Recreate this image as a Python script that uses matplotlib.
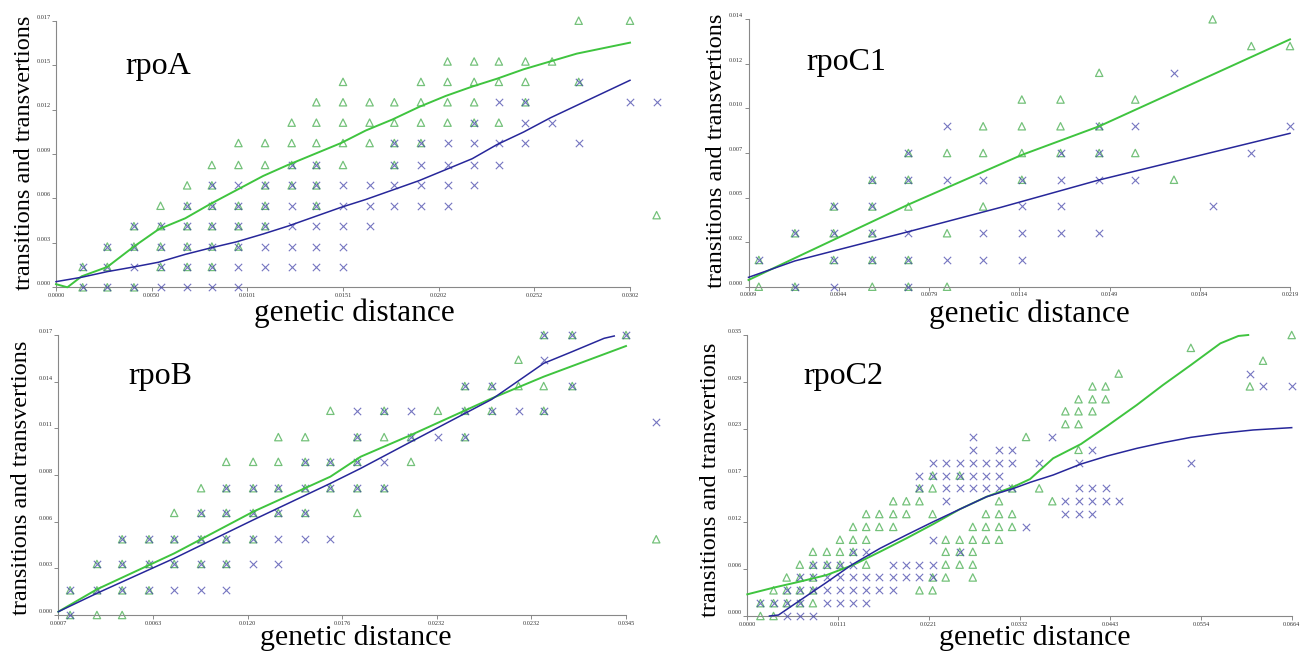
import numpy as np
import matplotlib
matplotlib.use("Agg")
import matplotlib.pyplot as plt
from matplotlib.transforms import ScaledTranslation

# ---------------- data ----------------
# grid codes: T = triangle (transitions), X = cross (transversions), B = both, . = none

# rpoA
rpoA_cols = [0.0014, 0.0027, 0.0041, 0.0055, 0.0069, 0.0082, 0.0096, 0.0110, 0.0124, 0.0137, 0.0151, 0.0165,
             0.0178, 0.0192, 0.0206, 0.0220, 0.0233, 0.0247, 0.0261, 0.0275, 0.0288, 0.0302, 0.0316]
rpoA_rows = [0.0000, 0.0013, 0.0026, 0.0039, 0.0052, 0.0065, 0.0078, 0.0092, 0.0105, 0.0118, 0.0131, 0.0144,
             0.0157, 0.0170]
rpoA_grid = [
    "BBBXXXX",
    "BBXBBBXXXXX",
    ".BBBBBBXXXX",
    "..BBBBBBXXXX",
    "...TBBBBXBXXXXX",
    "....TBXBBBXXXXXX",
    ".....TTTBBT.BXXXX",
    "......TTTTTTBBXXXX.X",
    "........TTTTTTTBTXX",
    ".........TTTTTTTXB...XX",
    "..........T..TTTTT.B",
    "..............TTTTT",
    "",
    "...................T.T",
]
rpoA_extra_tri = ([0.0316], [0.0046])
rpoA_extra_x = ([], [])
rpoA_green_x = [0.0000, 0.0006, 0.00135, 0.0027, 0.0041, 0.0054, 0.0068, 0.0081, 0.0095, 0.0109, 0.0122, 0.0136,
                0.0150, 0.0163, 0.0177, 0.0191, 0.0205, 0.0219, 0.0232, 0.0246, 0.0260, 0.0274, 0.0302]
rpoA_green_y = [0.0002, 0.0000, 0.0007, 0.0013, 0.0026, 0.0037, 0.0044, 0.0053, 0.0062, 0.0071, 0.0078, 0.0085,
                0.0092, 0.0100, 0.0107, 0.0115, 0.0122, 0.0128, 0.0133, 0.0139, 0.0144, 0.0149, 0.0156]
rpoA_blue_x = [0.0000, 0.00135, 0.0027, 0.0041, 0.0054, 0.0068, 0.0081, 0.0095, 0.0109, 0.0122, 0.0136, 0.0150,
               0.0163, 0.0177, 0.0191, 0.0205, 0.0219, 0.0232, 0.0246, 0.0260, 0.0274, 0.0302]
rpoA_blue_y = [0.00036, 0.00064, 0.0010, 0.0013, 0.0016, 0.0021, 0.0025, 0.0029, 0.0034, 0.0039, 0.0045, 0.0051,
               0.0056, 0.0062, 0.0068, 0.0075, 0.0082, 0.0091, 0.0099, 0.0108, 0.0116, 0.0132]
rpoA_xlim = (0.0, 0.0302)
rpoA_ylim = (0.0, 0.017)
rpoA_xticklabels = ["0.0000", "0.0050", "0.0101", "0.0151", "0.0202", "0.0252", "0.0302"]
rpoA_yticklabels = ["0.000", "0.003", "0.006", "0.009", "0.012", "0.015", "0.017"]

# rpoC1
rpoC1_cols = [0.0013, 0.0027, 0.0042, 0.0057, 0.0071, 0.0086, 0.0100, 0.0115, 0.0130, 0.0145, 0.0159, 0.0174,
              0.0189, 0.0204, 0.0219]
rpoC1_rows = [0.0000, 0.0014, 0.0028, 0.0042, 0.0056, 0.0070, 0.0084, 0.0098, 0.0112, 0.0126, 0.0140]
rpoC1_grid = [
    "TBXTBT",
    "B.BBBXXX",
    ".BBBXTXXXX",
    "..BBT.TXX...X",
    "...BBXXBXXXT",
    "....BTTTBBT..X",
    ".....XTTTBX...X",
    ".......TT.T",
    ".........T.X",
    ".............TT",
    "............T",
]
rpoC1_extra_tri = ([], [])
rpoC1_extra_x = ([], [])
rpoC1_green_x = [0.0009, 0.0027, 0.0071, 0.0115, 0.0145, 0.0219]
rpoC1_green_y = [0.00035, 0.0015, 0.0043, 0.0069, 0.0084, 0.01295]
rpoC1_blue_x = [0.0009, 0.0027, 0.0071, 0.0107, 0.0145, 0.0219]
rpoC1_blue_y = [0.00049, 0.00135, 0.00288, 0.00416, 0.00559, 0.00803]
rpoC1_xlim = (0.0009, 0.0219)
rpoC1_ylim = (0.0, 0.014)
rpoC1_xticklabels = ["0.0009", "0.0044", "0.0079", "0.0114", "0.0149", "0.0184", "0.0219"]
rpoC1_yticklabels = ["0.000", "0.002", "0.005", "0.007", "0.010", "0.012", "0.014"]

# rpoB
rpoB_cols = [0.0014, 0.0030, 0.0045, 0.0061, 0.0076, 0.0092, 0.0107, 0.0123, 0.0138, 0.0154, 0.0169, 0.0185,
             0.0201, 0.0217, 0.0233, 0.0249, 0.0265, 0.0281, 0.0296, 0.0313, 0.0328, 0.0345, 0.0363]
rpoB_rows = [0.0000, 0.0015, 0.0031, 0.0046, 0.0062, 0.0077, 0.0093, 0.0108, 0.0124, 0.0139, 0.0155, 0.0170]
rpoB_grid = [
    "BTT",
    "BBBBXXX",
    ".BBBBBBXX",
    "..BBBBBBXXX",
    "....TBBBBB.T",
    ".....TBBBBBBB",
    "......TTTBBBXT",
    "........TT.BTBXB",
    "..........TXBXTBBXB",
    "...............BBTTB",
    ".................TX",
    "..................BB.B",
]
rpoB_extra_tri = ([0.0363], [0.0046])
rpoB_extra_x = ([0.0363], [0.0117])
rpoB_green_x = [0.0007, 0.0030, 0.0076, 0.0123, 0.0169, 0.0187, 0.0217, 0.0265, 0.0296, 0.0345]
rpoB_green_y = [0.0002, 0.00156, 0.00374, 0.00627, 0.0084, 0.00961, 0.01093, 0.01315, 0.01447, 0.01633]
rpoB_blue_x = [0.0007, 0.0030, 0.0076, 0.0123, 0.0169, 0.0187, 0.0217, 0.0265, 0.0296, 0.0313, 0.0332, 0.0338]
rpoB_blue_y = [0.0002, 0.00132, 0.00344, 0.00577, 0.00799, 0.0089, 0.01052, 0.01309, 0.01528, 0.01599, 0.0168,
               0.01694]
rpoB_xlim = (0.0007, 0.0345)
rpoB_ylim = (0.0, 0.017)
rpoB_xticklabels = ["0.0007", "0.0063", "0.0120", "0.0176", "0.0232", "0.0232", "0.0345"]
rpoB_yticklabels = ["0.000", "0.003", "0.006", "0.008", "0.011", "0.014", "0.017"]

# rpoC2
rpoC2_cols = [0.0016, 0.0032, 0.0048, 0.0064, 0.0080, 0.0097, 0.0113, 0.0129, 0.0145, 0.0161, 0.0178, 0.0194,
              0.0210, 0.0226, 0.0242, 0.0259, 0.0275, 0.0291, 0.0307, 0.0323, 0.0340, 0.0356, 0.0372, 0.0388,
              0.0404, 0.0421, 0.0437, 0.0453, 0.0541, 0.0613, 0.0629, 0.0664]
rpoC2_rows = [0.0000, 0.0016, 0.0032, 0.0048, 0.0064, 0.0080, 0.0095, 0.0111, 0.0127, 0.0143, 0.0159, 0.0175,
              0.0191, 0.0207, 0.0223, 0.0239, 0.0255, 0.0270, 0.0286, 0.0302, 0.0318, 0.0334, 0.0350]
rpoC2_grid = [
    "TTXXX",
    "BBBBTXXXX",
    ".TBBBXXXXXX.TT",
    "..TBBXXXXXXXXBT.T",
    "...TBBBXT.XXXXTTT",
    "....TTTBX.....TBT",
    "......TTT....XTTTTT",
    ".......TTTT.....TTTTX",
    "........TTTT.T...TTT...XXX",
    "..........TTT.X...T...TXXXXX",
    "............BTXXXXXB.T..XXX",
    "............XBXBXXX",
    ".............XXXXXXX.X..X...X",
    "................X.XX....TX",
    "................X...T.X",
    ".......................TT",
    ".......................TTT",
    "........................TTT",
    ".........................TT..TXX",
    "...........................T.X",
    "..............................T",
    "............................T",
    "...............................T",
]
rpoC2_extra_tri = ([], [])
rpoC2_extra_x = ([], [])
rpoC2_green_x = [0.0000, 0.0032, 0.0064, 0.0097, 0.0129, 0.0162, 0.0194, 0.0227, 0.0259, 0.0292, 0.0325, 0.0345,
                 0.0373, 0.0407, 0.0439, 0.0475, 0.0507, 0.0541, 0.0577, 0.0599, 0.0611]
rpoC2_green_y = [0.0027, 0.00353, 0.00428, 0.00511, 0.00635, 0.00801, 0.00967, 0.01146, 0.01329, 0.01486, 0.01611,
                 0.01706, 0.01964, 0.02142, 0.02367, 0.02628, 0.02877, 0.03126, 0.03396, 0.03488, 0.0350]
rpoC2_blue_x = [0.0027, 0.0038, 0.0062, 0.0095, 0.0127, 0.0162, 0.0194, 0.0227, 0.0259, 0.0292, 0.0325, 0.0345,
                0.0373, 0.0407, 0.0439, 0.0475, 0.0507, 0.0541, 0.0577, 0.0617, 0.0664]
rpoC2_blue_y = [0.0000, 0.00012, 0.00179, 0.00407, 0.00635, 0.00843, 0.01009, 0.01175, 0.01329, 0.01486, 0.0159,
                0.01665, 0.01756, 0.01893, 0.01993, 0.02088, 0.02159, 0.02225, 0.02275, 0.02317, 0.02346]
rpoC2_xlim = (0.0, 0.0664)
rpoC2_ylim = (0.0, 0.035)
rpoC2_xticklabels = ["0.0000", "0.0111", "0.0221", "0.0332", "0.0443", "0.0554", "0.0664"]
rpoC2_yticklabels = ["0.000", "0.006", "0.012", "0.017", "0.023", "0.029", "0.035"]

titles = ["rpoA", "rpoC1", "rpoB", "rpoC2"]
xlabel_text = "genetic distance"
ylabel_text = "transitions and transvertions"

# ---------------- styling / layout ----------------
W, H = 1311, 652
TRI_C = "#46ad4e"
X_C = "#3b3ba6"
GREEN_LINE = "#3fc43f"
BLUE_LINE = "#27279a"
SERIF = ["Liberation Serif", "DejaVu Serif"]

fig = plt.figure(figsize=(W / 100, H / 100), dpi=100)


def px_rect(left, top, right, bottom):
    return [left / W, 1 - bottom / H, (right - left) / W, (bottom - top) / H]


panels = [
    dict(rect=px_rect(56, 20.7, 630, 287.3), cols=rpoA_cols, rows=rpoA_rows, grid=rpoA_grid,
         etri=rpoA_extra_tri, ex=rpoA_extra_x, gx=rpoA_green_x, gy=rpoA_green_y, bx=rpoA_blue_x, by=rpoA_blue_y,
         xlim=rpoA_xlim, ylim=rpoA_ylim, xtl=rpoA_xticklabels, ytl=rpoA_yticklabels,
         title=(125, 74), ylab=(25, 153), xlab=(354, 321), xls=22.5),
    dict(rect=px_rect(748.5, 19.3, 1290, 286.7), cols=rpoC1_cols, rows=rpoC1_rows, grid=rpoC1_grid,
         etri=rpoC1_extra_tri, ex=rpoC1_extra_x, gx=rpoC1_green_x, gy=rpoC1_green_y, bx=rpoC1_blue_x,
         by=rpoC1_blue_y, xlim=rpoC1_xlim, ylim=rpoC1_ylim, xtl=rpoC1_xticklabels, ytl=rpoC1_yticklabels,
         title=(806, 70), ylab=(717, 151), xlab=(1029, 322), xls=22.5),
    dict(rect=px_rect(58.3, 335, 626, 615), cols=rpoB_cols, rows=rpoB_rows, grid=rpoB_grid,
         etri=rpoB_extra_tri, ex=rpoB_extra_x, gx=rpoB_green_x, gy=rpoB_green_y, bx=rpoB_blue_x, by=rpoB_blue_y,
         xlim=rpoB_xlim, ylim=rpoB_ylim, xtl=rpoB_xticklabels, ytl=rpoB_yticklabels,
         title=(128, 384), ylab=(22, 478), xlab=(356, 645), xls=21.5),
    dict(rect=px_rect(747.3, 335, 1291.7, 616), cols=rpoC2_cols, rows=rpoC2_rows, grid=rpoC2_grid,
         etri=rpoC2_extra_tri, ex=rpoC2_extra_x, gx=rpoC2_green_x, gy=rpoC2_green_y, bx=rpoC2_blue_x,
         by=rpoC2_blue_y, xlim=rpoC2_xlim, ylim=rpoC2_ylim, xtl=rpoC2_xticklabels, ytl=rpoC2_yticklabels,
         title=(803, 384), ylab=(710, 480), xlab=(1035, 645), xls=21.5),
]

for p, title in zip(panels, titles):
    ax = fig.add_axes(p["rect"])
    tx, ty, xx, xy = [], [], [], []
    for r, line in enumerate(p["grid"]):
        line = line.ljust(len(p["cols"]), ".")
        for c, ch in enumerate(line):
            if ch in "TB":
                tx.append(p["cols"][c]); ty.append(p["rows"][r])
            if ch in "XB":
                xx.append(p["cols"][c]); xy.append(p["rows"][r])
    tx += p["etri"][0]; ty += p["etri"][1]
    xx += p["ex"][0]; xy += p["ex"][1]

    ax.scatter(tx, ty, marker="^", s=28, facecolors="none", edgecolors=TRI_C, linewidths=0.9,
               alpha=0.75, clip_on=False, zorder=2)
    ax.scatter(xx, xy, marker="x", s=28, c=X_C, linewidths=0.8, alpha=0.7, clip_on=False, zorder=3)
    ax.plot(p["gx"], p["gy"], color=GREEN_LINE, lw=1.4, clip_on=False, zorder=4)
    ax.plot(p["bx"], p["by"], color=BLUE_LINE, lw=1.1, clip_on=False, zorder=5)

    ax.set_xlim(*p["xlim"])
    ax.set_ylim(*p["ylim"])
    ax.set_xticks(np.linspace(p["xlim"][0], p["xlim"][1], len(p["xtl"])))
    ax.set_xticklabels(p["xtl"], fontfamily=SERIF)
    ax.set_yticks(np.linspace(p["ylim"][0], p["ylim"][1], len(p["ytl"])))
    ax.set_yticklabels(p["ytl"], fontfamily=SERIF)
    ax.tick_params(direction="out", length=3, width=0.6, color="#777777", labelsize=4.5,
                   labelcolor="#333333", pad=1)
    for lab in ax.get_yticklabels():
        lab.set_transform(lab.get_transform() + ScaledTranslation(0, 3 / 72, fig.dpi_scale_trans))
    for s in ["top", "right"]:
        ax.spines[s].set_visible(False)
    for s in ["left", "bottom"]:
        ax.spines[s].set_color("#888888")
        ax.spines[s].set_linewidth(0.8)
    ax.patch.set_alpha(0)

    fig.text(p["title"][0] / W, 1 - p["title"][1] / H, title, fontsize=23, fontfamily=SERIF,
             ha="left", va="baseline")
    fig.text(p["ylab"][0] / W, 1 - p["ylab"][1] / H, ylabel_text, fontsize=17.5, fontfamily=SERIF,
             rotation=90, ha="center", va="center")
    fig.text(p["xlab"][0] / W, 1 - p["xlab"][1] / H, xlabel_text, fontsize=p["xls"], fontfamily=SERIF,
             ha="center", va="baseline")

fig.savefig("out.png", dpi=100)
